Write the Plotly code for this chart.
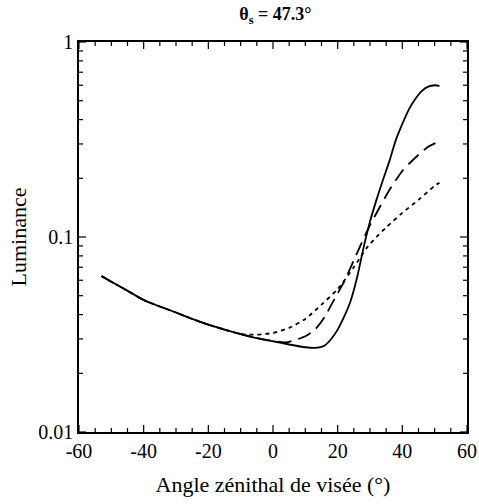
import math
import plotly.graph_objects as go

# Common (overlapping) portion for x <= -10
x_common = [-53, -50, -45, -40, -35, -30, -25, -20, -15, -10]
y_common = [0.063, 0.059, 0.053, 0.0475, 0.044, 0.041, 0.038, 0.0355, 0.0335, 0.0318]

# Solid curve
x_solid = [-5, 0, 5, 10, 13, 16, 18, 20, 22, 24, 26, 28, 30, 32, 34, 36, 38, 40, 42, 44, 46, 48, 50, 51.5]
y_solid = [0.0303, 0.0292, 0.0281, 0.0272, 0.027, 0.0278, 0.030, 0.0335, 0.039, 0.047, 0.062, 0.088,
           0.12, 0.155, 0.196, 0.245, 0.315, 0.38, 0.45, 0.51, 0.56, 0.59, 0.60, 0.595]

# Long-dash curve
x_ldash = [-5, 0, 4, 7, 10, 13, 16, 19, 22, 25, 27, 30, 33, 36, 40, 44, 48, 51.5]
y_ldash = [0.0303, 0.0293, 0.0288, 0.0297, 0.031, 0.0335, 0.039, 0.048, 0.059, 0.076, 0.09,
           0.115, 0.142, 0.174, 0.218, 0.255, 0.29, 0.31]

# Short-dash curve
x_sdash = [-5, 0, 5, 10, 15, 20, 25, 29, 32, 35, 40, 45, 50, 51.5]
y_sdash = [0.0316, 0.0322, 0.0342, 0.038, 0.045, 0.054, 0.07, 0.088, 0.1, 0.112, 0.133, 0.155, 0.183, 0.19]

title_text = "<b>θ<sub>s</sub> = 47.3°</b>"
x_title = "Angle zénithal de visée (°)"
y_title = "Luminance"
x_ticks = [-60, -40, -20, 0, 20, 40, 60]
x_ticklabels = ["-60", "-40", "-20", "0", "20", "40", "60"]
x_minor = [v for v in range(-55, 60, 5) if v % 20 != 0]
y_ticks = [0.01, 0.1, 1]
y_ticklabels = ["0.01", "0.1", "1"]
y_minor = [m * d for d in (0.01, 0.1) for m in range(2, 10)]

X_RANGE = [-60, 60]
Y_LOG_RANGE = [-2, 0]
W, H = 479, 504
M = dict(l=79, r=12, t=42, b=72)
PW = W - M["l"] - M["r"]
PH = H - M["t"] - M["b"]
X_PER_PX = (X_RANGE[1] - X_RANGE[0]) / PW
DEC_PER_PX = (Y_LOG_RANGE[1] - Y_LOG_RANGE[0]) / PH

fig = go.Figure()
styles = [
    (x_sdash, y_sdash, "4px,4px"),
    (x_ldash, y_ldash, "14px,7px"),
    (x_solid, y_solid, "solid"),
]
for xs, ys, dash in styles:
    fig.add_trace(go.Scatter(
        x=x_common + xs, y=y_common + ys, mode="lines",
        line=dict(color="black", width=1.8, dash=dash, shape="spline", smoothing=0.6),
        showlegend=False, hoverinfo="skip",
    ))

# inside tick marks on all four sides, built from the tick arrays and the axis scales
tx, ty = [], []
y_lo, y_hi = 10 ** Y_LOG_RANGE[0], 10 ** Y_LOG_RANGE[1]
for vals, ln in ((x_ticks, 7), (x_minor, 4)):
    for v in vals:
        tx += [v, v, None, v, v, None]
        ty += [y_lo, y_lo * 10 ** (ln * DEC_PER_PX), None, y_hi, y_hi * 10 ** (-ln * DEC_PER_PX), None]
for vals, ln in ((y_ticks, 7), (y_minor, 4)):
    for v in vals:
        tx += [X_RANGE[0], X_RANGE[0] + ln * X_PER_PX, None, X_RANGE[1], X_RANGE[1] - ln * X_PER_PX, None]
        ty += [v, v, None, v, v, None]
fig.add_trace(go.Scatter(x=tx, y=ty, mode="lines", line=dict(color="black", width=1.2),
                         showlegend=False, hoverinfo="skip", cliponaxis=False))

font_family = "Liberation Serif"
fig.update_layout(
    template="none",
    width=W, height=H,
    margin=M,
    paper_bgcolor="white", plot_bgcolor="white",
    font=dict(family=font_family, color="black", size=20),
    title=dict(text=title_text, x=0.575, xanchor="center", y=0.972, yanchor="middle",
               font=dict(family=font_family, size=18, color="black")),
    xaxis=dict(
        range=X_RANGE, tickmode="array", tickvals=x_ticks, ticktext=x_ticklabels,
        ticks="", showline=True, linecolor="black", linewidth=1.5, mirror=True,
        showgrid=False, zeroline=False,
        title=dict(text=x_title, font=dict(size=22, color="black"), standoff=16),
        tickfont=dict(size=20, color="black"),
    ),
    yaxis=dict(
        type="log", range=Y_LOG_RANGE, tickmode="array", tickvals=y_ticks, ticktext=y_ticklabels,
        ticks="", showline=True, linecolor="black", linewidth=1.5, mirror=True,
        showgrid=False, zeroline=False,
        title=dict(text=y_title, font=dict(size=22, color="black"), standoff=6),
        tickfont=dict(size=20, color="black"),
    ),
)
fig.write_html("out.html")
